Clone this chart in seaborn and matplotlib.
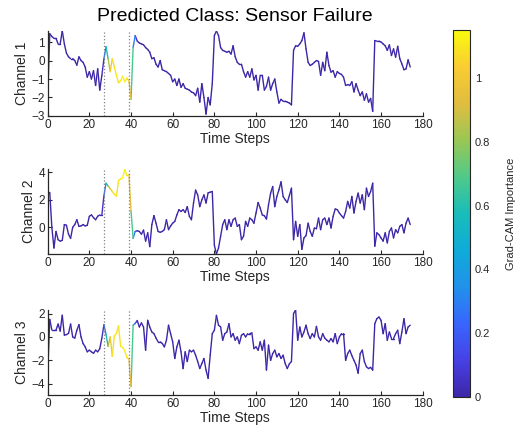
import numpy as np
import pandas as pd
import seaborn as sns
import matplotlib.pyplot as plt
from matplotlib.colors import LinearSegmentedColormap, Normalize
from matplotlib.cm import ScalarMappable

# --- data (one value per time step) ---
channel_1 = [
    -2.0, 1.45, 1.3, 1.2, 1.2, 0.9, 0.9, 1.6, 0.9, 0.4,
    0.2, 0.1, 0.1, 0.0, -0.25, 0.2, 0.0, -0.1, -0.35, -0.9,
    -0.6, -1.0, -0.55, -1.35, -0.45, -1.6, -0.8, 0.1, 0.75, 0.1,
    -0.6, 0.1, -0.35, -0.8, -1.2, -1.1, -0.85, -1.15, -0.95, -1.1,
    -2.1, 0.7, 1.35, 1.05, 0.95, 0.9, 0.85, 0.7, 0.6, 0.45,
    0.1, 0.15, -0.2, -0.35, 0.0, -0.5, -0.55, -0.6, -0.7, -0.8,
    -1.15, -1.0, -1.35, -1.0, -1.45, -1.25, -1.5, -1.55, -1.6, -1.7,
    -1.75, -1.9, -1.5, -2.25, -1.25, -2.0, -2.9, -2.0, -2.4, -1.25,
    1.35, 1.6, 1.35, 0.7, 0.55, 0.5, 0.45, 0.5, 0.35, 0.8,
    0.2, -0.1, -0.2, -0.2, -0.6, -0.9, -0.6, -0.9, -0.45, -1.05,
    -0.8, -1.6, -0.8, -0.8, -1.6, -1.4, -0.9, -1.6, -1.25, -1.0,
    -1.7, -2.3, -2.1, -2.2, -2.2, -2.25, -2.3, -2.4, 0.55, 0.8,
    0.77, 0.9, 1.08, 1.5, 0.63, -0.1, -0.27, -0.2, -0.1, 0.0,
    -0.05, -0.8, -0.1, -0.55, 0.45, -0.27, -0.63, -0.55, -0.9, -0.6,
    -0.7, -0.75, -0.9, -1.35, -1.3, -1.35, -1.15, -1.7, -1.25, -1.6,
    -1.9, -1.7, -2.15, -1.8, -2.25, -2.05, -2.75, 1.08, 1.05, 1.05,
    1.0, 0.9, 0.8, 0.55, 0.85, 0.27, 0.63, 0.18, 0.77, 0.1,
    -0.18, -0.5, -0.45, 0.04, -0.35,
]

channel_2 = [
    2.6, 2.5, 0.0, -1.5, -0.3, -0.9, -1.0, -0.95, 0.2, 0.15,
    -0.5, -0.8, 0.0, 0.2, 0.55, 0.07, 0.1, 0.2, 0.1, 0.15,
    0.8, 0.9, 0.7, 0.55, 0.8, 0.9, 0.9, 2.3, 3.2, 3.0,
    2.8, 2.6, 2.4, 2.25, 3.4, 3.5, 3.6, 4.2, 3.75, 3.8,
    1.2, -0.8, -0.3, -0.25, -0.3, -0.5, -0.2, -1.0, -0.4, -1.4,
    0.2, 0.85, 0.3, -0.3, -0.36, -0.3, -0.17, 0.55, -0.17, 0.1,
    0.3, 0.43, 0.9, 1.28, 1.15, 1.28, 1.08, 1.5, 0.8, 0.55,
    1.76, 2.7, 2.35, 1.5, 2.0, 2.35, 1.76, 2.5, 2.55, 2.6,
    -1.3, -1.93, -1.5, -0.65, 0.2, 0.55, -0.17, 0.55, 0.07, 0.55,
    0.67, 0.07, 0.2, -0.9, -0.65, 0.43, 0.07, 0.67, 0.55, 0.3,
    1.04, 1.8, 1.4, 0.9, 0.84, 0.6, 1.64, 2.48, 2.96, 1.5,
    2.24, 2.72, 3.3, 2.24, 2.0, 1.8, 2.3, 2.84, -0.9, 0.43,
    -0.65, 0.2, -1.6, -0.77, -0.6, 0.3, -0.3, -0.65, -0.05, -0.1,
    0.67, -0.17, 0.55, 0.67, 0.2, 0.67, -0.05, 0.8, 1.33, 1.28,
    1.04, 0.85, 0.67, 1.15, 1.88, 1.4, 2.24, 1.04, 1.88, 2.48,
    1.76, 2.36, 1.28, 2.84, 2.24, 2.6, 3.2, -1.37, -0.4, -0.53,
    -0.77, -1.0, -0.4, -1.13, -0.3, -0.05, -0.77, -0.17, -0.4, 0.07,
    0.2, -0.4, 0.3, 0.67, 0.2,
]

channel_3 = [
    -3.1, 1.5, 0.6, 0.6, 0.6, 1.1, 0.5, 1.85, 0.15, 0.2,
    0.3, 1.1, 0.0, -0.1, 0.57, 1.05, 0.0, -0.57, -0.85, -1.27,
    -1.13, -1.27, -1.4, -1.13, -1.27, -1.0, -0.1, 1.05, 0.2, -0.8,
    0.0, -1.65, 0.1, 0.3, 0.95, -0.8, -0.9, -1.2, -1.75, -1.9,
    -4.25, 1.0, 1.15, 1.4, 0.85, 1.2, 0.85, -1.13, 1.42, 0.85,
    0.42, 0.28, -0.1, -0.42, -0.42, -0.56, -0.85, -0.28, 1.0, 0.28,
    -0.42, -1.84, -0.85, -0.28, -1.27, -2.7, -1.27, -2.1, -1.13, -1.27,
    -1.13, -1.56, -2.1, -2.7, -2.27, -1.84, -2.83, -3.54, -1.56, 0.28,
    0.57, 1.84, 1.0, 0.85, -0.28, 0.28, 0.42, 1.13, 0.0, 0.28,
    -0.28, 0.0, -0.57, 0.14, 0.28, 0.0, 0.28, 0.28, 0.34, -1.0,
    -0.85, -1.13, -0.42, -1.13, -0.28, -2.83, -0.7, -2.0, -1.42, -1.13,
    -1.7, -1.42, -1.84, -1.56, -2.27, -2.7, -2.3, -2.1, 2.0, 2.3,
    -0.28, 0.85, 0.0, 0.42, 1.0, 0.28, -0.14, 0.28, 0.0, 0.9,
    0.0, -0.28, 0.28, -0.1, -0.28, -0.42, -0.14, -0.42, 0.28, -0.57,
    0.0, 0.28, 0.28, -2.0, -1.42, -1.13, -1.6, -2.0, -2.4, -3.1,
    -1.42, -1.13, -2.1, -2.55, -2.7, -2.6, -2.83, 1.13, 1.56, 1.7,
    1.42, 0.28, 1.13, -0.28, 0.42, -0.14, -0.14, 0.28, 0.57, -0.57,
    0.42, 1.56, 0.28, 0.85, 1.0,
]

# Grad-CAM importance per time step (zero outside the highlighted window)
importance = ([0.0] * 27
              + [0.1, 0.45, 0.7, 0.95, 1.05, 1.1, 1.1, 1.08,
                 1.1, 1.12, 1.14, 1.08, 1.0, 0.9, 0.45, 0.12]
              + [0.0] * 132)

channels = [channel_1, channel_2, channel_3]
channel_names = ['Channel 1', 'Channel 2', 'Channel 3']
window = [27, 39]
cbar_ticks = [0, 0.2, 0.4, 0.6, 0.8, 1]
time_steps = np.arange(len(channel_1))

# parula-like colormap
parula = LinearSegmentedColormap.from_list('parula', [
    (0.00, (0.2422, 0.1504, 0.6603)),
    (0.10, (0.2780, 0.2560, 0.8960)),
    (0.20, (0.2200, 0.4000, 0.9900)),
    (0.30, (0.1300, 0.5700, 0.9200)),
    (0.40, (0.0600, 0.6700, 0.8500)),
    (0.50, (0.1000, 0.7400, 0.7300)),
    (0.60, (0.3100, 0.7900, 0.5400)),
    (0.70, (0.6000, 0.7800, 0.3300)),
    (0.80, (0.8800, 0.7400, 0.2500)),
    (0.90, (0.9800, 0.8000, 0.2000)),
    (1.00, (0.9763, 0.9831, 0.0538)),
])
cmax = 1.15

sns.set_style("ticks")
plt.rcParams['font.family'] = ['Liberation Sans', 'DejaVu Sans']
dark = '#262626'


def segments(values):
    # one two-point piece per step, coloured by the mean importance
    rows = []
    for i in range(len(values) - 1):
        w = (importance[i] + importance[i + 1]) / 2
        rows.append((time_steps[i], values[i], w, i))
        rows.append((time_steps[i + 1], values[i + 1], w, i))
    return pd.DataFrame(rows, columns=['t', 'v', 'imp', 'seg'])


fig = plt.figure(figsize=(5.2, 4.36), dpi=100)
positions = [[0.0917, 0.734, 0.7212, 0.195],
             [0.0917, 0.417, 0.7212, 0.195],
             [0.0917, 0.094, 0.7212, 0.195]]
ylims = [(-3, 1.6), (-1.95, 4.22), (-4.96, 2.3)]
yticks = [[-3, -2, -1, 0, 1], [0, 2, 4], [-4, -2, 0, 2]]

axes = []
for k, vals in enumerate(channels):
    ax = fig.add_axes(positions[k])
    sns.lineplot(data=segments(vals), x='t', y='v', hue='imp', units='seg',
                 estimator=None, palette=parula, hue_norm=(0, cmax),
                 legend=False, linewidth=1.0, solid_capstyle='round',
                 sort=False, ax=ax)
    for w in window:
        ax.axvline(w, color='#808080', linestyle=':', linewidth=0.9)
    ax.set_xlim(0, 180)
    ax.set_ylim(*ylims[k])
    ax.set_xticks(range(0, 181, 20))
    ax.set_yticks(yticks[k])
    ax.set_xlabel('Time Steps', fontsize=10, color=dark, labelpad=1)
    ax.set_ylabel(channel_names[k], fontsize=10, color=dark, labelpad=2)
    ax.tick_params(direction='in', length=3, width=0.8, labelsize=8.5,
                   colors=dark, pad=2)
    sns.despine(ax=ax)
    for s in ['left', 'bottom']:
        ax.spines[s].set_color(dark)
        ax.spines[s].set_linewidth(0.9)
    axes.append(ax)

axes[0].set_title('Predicted Class: Sensor Failure', fontsize=14, pad=7,
                  color='black')

cax = fig.add_axes([0.8706, 0.0894, 0.0333, 0.8417])
sm = ScalarMappable(norm=Normalize(0, cmax), cmap=parula)
cbar = fig.colorbar(sm, cax=cax, ticks=cbar_ticks)
cbar.ax.set_yticklabels(['0', '0.2', '0.4', '0.6', '0.8', '1'])
cbar.ax.tick_params(direction='in', length=3, labelsize=8, colors=dark)
cbar.outline.set_linewidth(0.8)
cbar.outline.set_edgecolor(dark)
cbar.set_label('Grad-CAM Importance', fontsize=8, color=dark, labelpad=11)

plt.savefig('out.png', dpi=100)
print("Saved out.png")
